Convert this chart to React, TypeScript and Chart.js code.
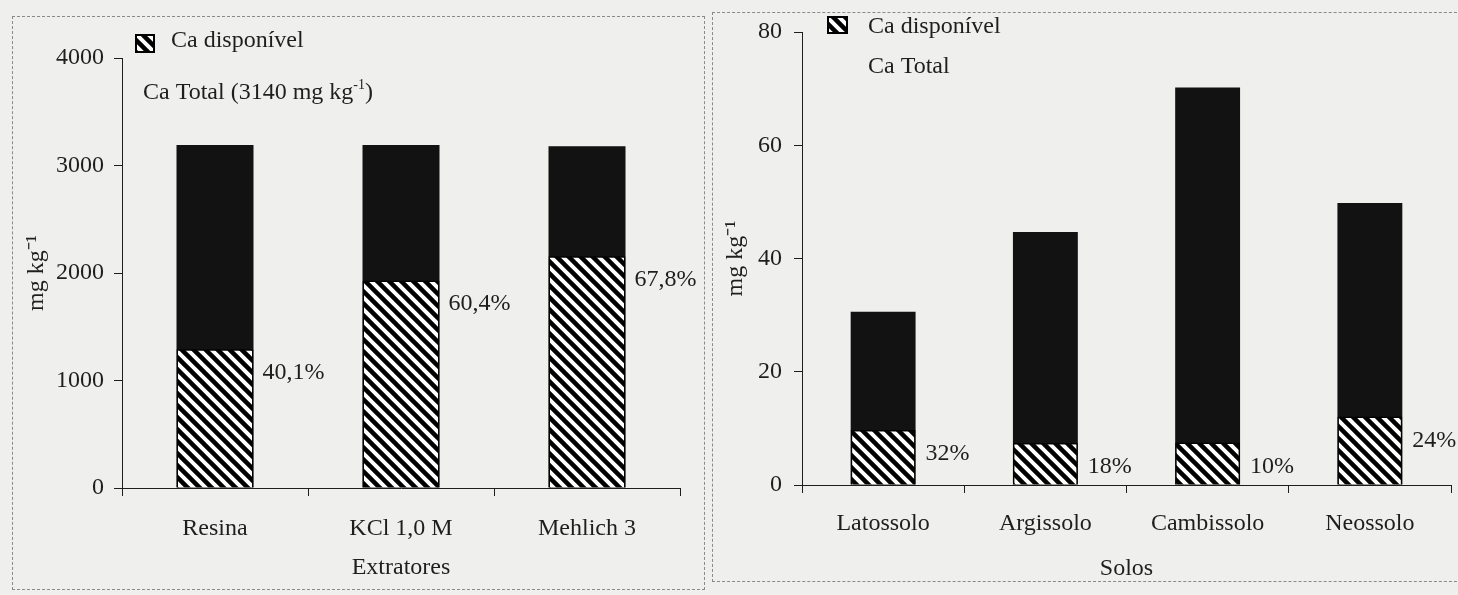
import React, { useEffect, useRef } from "react";
import { Chart, registerables } from "chart.js";

Chart.register(...registerables);

// ---------- data ----------
const extratores = ["Resina", "KCl 1,0 M", "Mehlich 3"];
const extratoresDisponivel = [1290, 1930, 2155];
const extratoresTotal = [3190, 3190, 3180];
const extratoresPct = ["40,1%", "60,4%", "67,8%"];

const solos = ["Latossolo", "Argissolo", "Cambissolo", "Neossolo"];
const solosDisponivel = [9.7, 7.4, 7.5, 12.1];
const solosTotal = [30.6, 44.7, 70.2, 49.8];
const solosPct = ["32%", "18%", "10%", "24%"];

const labelDisponivel = "Ca disponível";
const labelTotal = "Ca Total";
const labelTotalExtra = " (3140 mg kg";
const labelTotalSup = "-1";
const labelTotalClose = ")";
const yTitle = "mg kg⁻¹";
const xTitleExtratores = "Extratores";
const xTitleSolos = "Solos";

// ---------- style ----------
const FONT = '"Liberation Serif", "Times New Roman", serif';
const INK = "#1e1e1e";
const BAR_DARK = "#121212";
const BG = "#efefed";
const FS = 24;

function makeHatch(): CanvasPattern | string {
  const s = 12;
  const c = document.createElement("canvas");
  c.width = s;
  c.height = s;
  const g = c.getContext("2d");
  if (!g) return "#888";
  g.fillStyle = "#ffffff";
  g.fillRect(0, 0, s, s);
  g.strokeStyle = "#000000";
  g.lineWidth = 4.5;
  g.lineCap = "square";
  for (let k = -1; k <= 1; k++) {
    g.beginPath();
    g.moveTo(k * s - 2, -2);
    g.lineTo(k * s + s + 2, s + 2);
    g.stroke();
  }
  const p = g.createPattern(c, "repeat");
  return p || "#888";
}

const overlayPlugin = {
  id: "overlay",
  afterDatasetsDraw(chart: any, _args: any, opts: any) {
    const { ctx, chartArea } = chart;
    ctx.save();
    // percentage labels next to the available-Ca bars
    const meta = chart.getDatasetMeta(0);
    ctx.font = `${FS}px ${FONT}`;
    ctx.fillStyle = INK;
    ctx.textAlign = "left";
    ctx.textBaseline = "middle";
    meta.data.forEach((el: any, i: number) => {
      const p = el.getProps(["x", "y", "width"], true);
      ctx.fillText(opts.pct[i], p.x + p.width / 2 + opts.pctDx, p.y + opts.pctDy);
    });

    // legend
    const lg = opts.legend;
    const bx = chartArea.left + lg.boxX;
    const by = chartArea.top + lg.boxY;
    ctx.fillStyle = opts.hatch;
    ctx.fillRect(bx, by, lg.boxW, lg.boxH);
    ctx.strokeStyle = "#000";
    ctx.lineWidth = 2;
    ctx.strokeRect(bx, by, lg.boxW, lg.boxH);

    ctx.fillStyle = INK;
    ctx.textBaseline = "alphabetic";
    ctx.font = `${FS}px ${FONT}`;
    lg.rows.forEach((row: any) => {
      let x = chartArea.left + row.x;
      const y = chartArea.top + row.y;
      row.parts.forEach((part: any) => {
        if (part.sup) {
          ctx.font = `${Math.round(FS * 0.6)}px ${FONT}`;
          ctx.fillText(part.t, x, y - FS * 0.42);
          x += ctx.measureText(part.t).width;
          ctx.font = `${FS}px ${FONT}`;
        } else {
          ctx.fillText(part.t, x, y);
          x += ctx.measureText(part.t).width;
        }
      });
    });
    ctx.restore();
  },
};

type Cfg = {
  labels: string[];
  disp: number[];
  total: number[];
  pct: string[];
  max: number;
  step: number;
  xTitle: string;
  width: number;
  height: number;
  padTop: number;
  padRight: number;
  yWidth: number;
  xHeight: number;
  barPct: number;
  xTickPad: number;
  yTickPad: number;
  yTitlePad: number;
  xTitlePad: number;
  pctDx: number;
  pctDy: number;
  legend: any;
};

function BarPanel({ cfg }: { cfg: Cfg }) {
  const ref = useRef<HTMLCanvasElement | null>(null);
  useEffect(() => {
    if (!ref.current) return;
    const hatch = makeHatch();
    const font = { family: FONT, size: FS };
    const chart = new Chart(ref.current, {
      type: "bar",
      data: {
        labels: cfg.labels,
        datasets: [
          {
            label: labelDisponivel,
            data: cfg.disp,
            backgroundColor: hatch as any,
            borderColor: "#000",
            borderWidth: 1.5,
            grouped: false,
            categoryPercentage: 1,
            barPercentage: cfg.barPct,
          },
          {
            label: labelTotal,
            data: cfg.total,
            backgroundColor: BAR_DARK,
            borderWidth: 0,
            grouped: false,
            categoryPercentage: 1,
            barPercentage: cfg.barPct,
          },
        ],
      },
      options: {
        responsive: false,
        animation: false,
        layout: { padding: { top: cfg.padTop, right: cfg.padRight, bottom: 0, left: 0 } },
        plugins: {
          legend: { display: false },
          tooltip: { enabled: false },
          overlay: {
            pct: cfg.pct,
            pctDx: cfg.pctDx,
            pctDy: cfg.pctDy,
            legend: cfg.legend,
            hatch,
          },
        } as any,
        scales: {
          x: {
            offset: true,
            grid: {
              display: true,
              offset: true,
              drawOnChartArea: false,
              drawTicks: true,
              tickLength: 8,
              color: INK,
              lineWidth: 1,
            },
            border: { display: true, color: INK, width: 1 },
            ticks: { color: INK, font, padding: cfg.xTickPad, maxRotation: 0 },
            title: {
              display: true,
              text: cfg.xTitle,
              color: INK,
              font,
              padding: { top: 0, bottom: cfg.xTitlePad },
            },
            afterFit: (s: any) => {
              s.height = cfg.xHeight;
            },
          },
          y: {
            min: 0,
            max: cfg.max,
            grid: {
              display: true,
              drawOnChartArea: false,
              drawTicks: true,
              tickLength: 8,
              color: INK,
              lineWidth: 1,
            },
            border: { display: true, color: INK, width: 1 },
            ticks: {
              stepSize: cfg.step,
              color: INK,
              font,
              padding: cfg.yTickPad,
              callback: (v: any) => String(v),
            },
            title: {
              display: true,
              text: yTitle,
              color: INK,
              font,
              padding: { top: cfg.yTitlePad, bottom: 0 },
            },
            afterFit: (s: any) => {
              s.width = cfg.yWidth;
            },
          },
        } as any,
      },
      plugins: [overlayPlugin as any],
    });
    return () => chart.destroy();
  }, [cfg]);
  return (
    <canvas
      ref={ref}
      width={cfg.width}
      height={cfg.height}
      style={{ display: "block", width: cfg.width, height: cfg.height }}
    />
  );
}

const leftCfg: Cfg = {
  labels: extratores,
  disp: extratoresDisponivel,
  total: extratoresTotal,
  pct: extratoresPct,
  max: 4000,
  step: 1000,
  xTitle: xTitleExtratores,
  width: 706,
  height: 595,
  padTop: 58,
  padRight: 26,
  yWidth: 122,
  xHeight: 107,
  barPct: 0.414,
  xTickPad: 18,
  yTickPad: 10,
  yTitlePad: 22,
  xTitlePad: 13,
  pctDx: 9,
  pctDy: 23,
  legend: {
    boxX: 14,
    boxY: -23,
    boxW: 18,
    boxH: 17,
    rows: [
      { x: 49, y: -11, parts: [{ t: labelDisponivel }] },
      {
        x: 21,
        y: 41,
        parts: [
          { t: labelTotal + labelTotalExtra },
          { t: labelTotalSup, sup: true },
          { t: labelTotalClose },
        ],
      },
    ],
  },
};

const rightCfg: Cfg = {
  labels: solos,
  disp: solosDisponivel,
  total: solosTotal,
  pct: solosPct,
  max: 80,
  step: 20,
  xTitle: xTitleSolos,
  width: 750,
  height: 595,
  padTop: 32,
  padRight: 7,
  yWidth: 94,
  xHeight: 110,
  barPct: 0.4,
  xTickPad: 16,
  yTickPad: 12,
  yTitlePad: 13,
  xTitlePad: 12,
  pctDx: 10,
  pctDy: 24,
  legend: {
    boxX: 26,
    boxY: -15,
    boxW: 19,
    boxH: 16,
    rows: [
      { x: 66, y: 1, parts: [{ t: labelDisponivel }] },
      { x: 66, y: 41, parts: [{ t: labelTotal }] },
    ],
  },
};

export default function App() {
  return (
    <div
      style={{
        position: "fixed",
        left: 0,
        top: 0,
        width: 1458,
        height: 595,
        background: BG,
        overflow: "hidden",
      }}
    >
      <div
        style={{
          position: "absolute",
          left: 12,
          top: 16,
          width: 693,
          height: 574,
          border: "1px dashed #8a8a8a",
          boxSizing: "border-box",
        }}
      />
      <div
        style={{
          position: "absolute",
          left: 712,
          top: 12,
          width: 760,
          height: 570,
          border: "1px dashed #8a8a8a",
          boxSizing: "border-box",
        }}
      />
      <div style={{ position: "absolute", left: 0, top: 0 }}>
        <BarPanel cfg={leftCfg} />
      </div>
      <div style={{ position: "absolute", left: 708, top: 0 }}>
        <BarPanel cfg={rightCfg} />
      </div>
    </div>
  );
}
